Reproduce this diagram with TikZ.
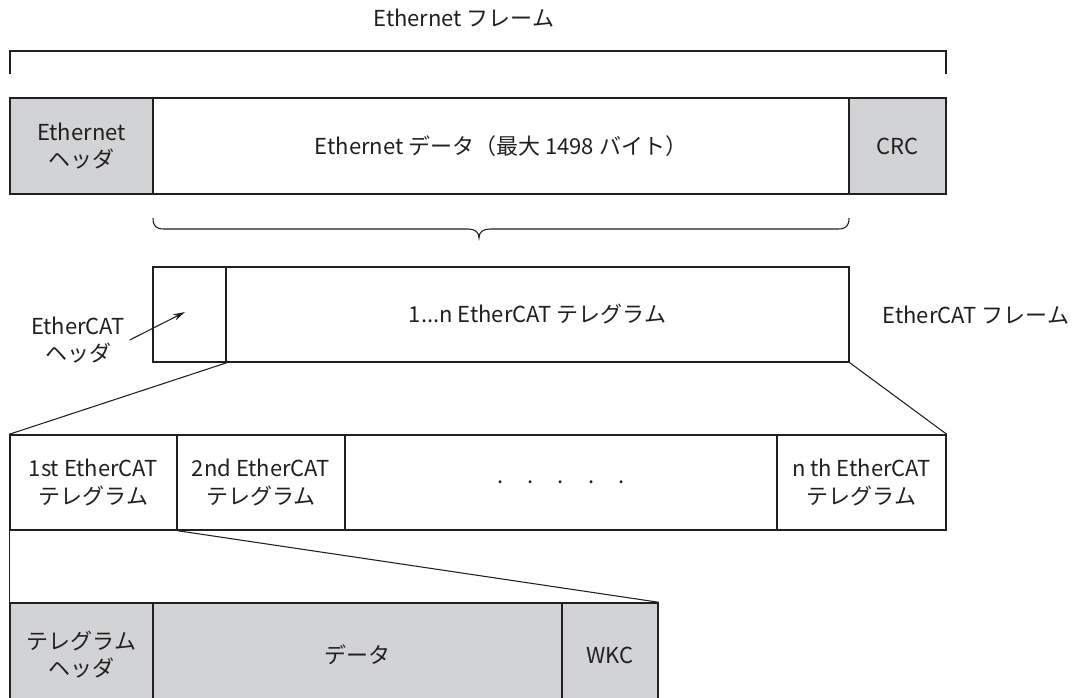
\documentclass[tikz,border=0pt]{standalone}
\usepackage{fontspec}
\setmainfont{Noto Sans CJK JP}
\usetikzlibrary{arrows.meta}
\definecolor{ink}{HTML}{231F20}
\definecolor{shade}{HTML}{D1D3D4}
\begin{document}
\begin{tikzpicture}[x=0.75pt,y=-0.75pt,
  font=\fontsize{16.5}{20.3}\selectfont,
  every node/.style={text=ink},
  box/.style={draw=ink, line width=1.1pt, inner sep=0pt, align=center},
  gbox/.style={box, fill=shade},
  cell/.style n args={4}{minimum width={(#3-#1)*0.75pt}, minimum height={(#4-#2)*0.75pt},
     at={({(#1+#3)/2},{(#2+#4)/2})}},
  lnk/.style={draw=ink, line width=0.8pt}]
\useasboundingbox (0,0) rectangle (1082,697);
\clip (0,0) rectangle (1082,697);
% title and bracket
\node (title) at (464,18) {Ethernet フレーム};
\coordinate (bl) at (10,74);
\coordinate (tl) at (10,51);
\coordinate (tr) at (946,51);
\coordinate (br) at (946,74);
\draw[lnk, line width=1pt] (bl) -- (tl) -- (tr) -- (br);
% Ethernet frame
\node[gbox, cell={10}{98}{153}{194}] (eh) {Ethernet\\ヘッダ};
\node[box, cell={153}{98}{849}{194}] (ed) {Ethernet データ（最大 1498 バイト）};
\node[gbox, cell={849}{98}{946}{194}] (crc) {CRC};
% brace
\draw[lnk] (153,218) .. controls (153,226) and (156,229) .. (164,229) -- (468,229)
  .. controls (475,229) and (479,232) .. (479,238)
  .. controls (479,232) and (483,229) .. (490,229) -- (838,229)
  .. controls (846,229) and (849,226) .. (849,218);
% EtherCAT frame
\node[box, cell={153}{267}{226}{362}] (ech) {};
\node[box, cell={226}{267}{849}{362}] (ecb) {1...n EtherCAT テレグラム};
\node (ecfl) at (976,315) {EtherCAT フレーム};
\node[align=center] (echl) at (78,340) {EtherCAT\\ヘッダ};
\coordinate (ah) at (185,312);
\draw[lnk, -{Stealth[length=9pt,width=5pt]}] (echl.east) -- (ah);
% telegrams
\node[box, cell={10}{435}{177}{530}] (t1) {1st EtherCAT\\テレグラム};
\node[box, cell={177}{435}{345}{530}] (t2) {2nd EtherCAT\\テレグラム};
\node[box, cell={345}{435}{777}{530}] (td) {.\hspace{18pt}.\hspace{18pt}.\hspace{18pt}.\hspace{18pt}.};
\node[box, cell={777}{435}{946}{530}] (tn) {n th EtherCAT\\テレグラム};
\draw[lnk] (ech.south east) -- (t1.north west);
\draw[lnk] (ecb.south east) -- (tn.north east);
% telegram structure
\node[gbox, cell={10}{603}{153}{707}] (bh) {テレグラム\\ヘッダ};
\node[gbox, cell={153}{603}{562}{707}] (bd) {データ};
\node[gbox, cell={562}{603}{658}{707}] (bw) {WKC};
\draw[lnk] (t1.south west) -- (bh.north west);
\draw[lnk] (t1.south east) -- (bw.north east);
\end{tikzpicture}
\end{document}
